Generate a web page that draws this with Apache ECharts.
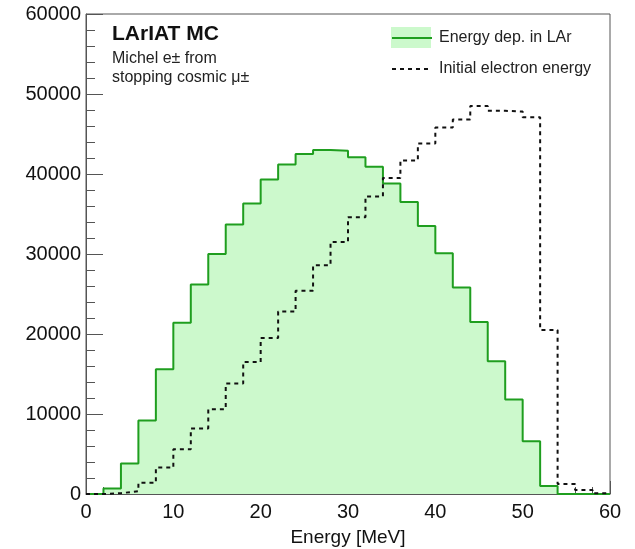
<!DOCTYPE html>
<html>
<head>
<meta charset="utf-8">
<script src="https://cdn.jsdelivr.net/npm/echarts@6/dist/echarts.min.js"></script>
<style>
  html, body { margin: 0; padding: 0; background: #fff; }
  #main { width: 635px; height: 549px; }
</style>
</head>
<body>
<div id="main"></div>
<script>
// bin low edges in MeV (2 MeV bins), last entry closes the histogram at 60
var binEdges = [0, 2, 4, 6, 8, 10, 12, 14, 16, 18, 20, 22, 24, 26, 28, 30,
                32, 34, 36, 38, 40, 42, 44, 46, 48, 50, 52, 54, 56, 58, 60];

// Energy deposited in LAr (entries per bin)
var depEnergy = [0, 700, 3800, 9200, 15600, 21400, 26200, 30000, 33700, 36300,
                 39300, 41200, 42500, 43000, 42900, 42100, 40900, 38800, 36500, 33500,
                 30100, 25800, 21500, 16600, 11800, 6600, 1000, 0, 0, 0];

// Initial electron energy (entries per bin)
var initEnergy = [0, 100, 350, 1400, 3300, 5600, 8200, 10600, 13800, 16500,
                  19500, 22800, 25400, 28600, 31500, 34600, 37200, 39500, 41700, 43800,
                  45800, 46800, 48500, 47900, 47800, 47100, 20500, 1250, 500, 100];

var xTicks = [0, 10, 20, 30, 40, 50, 60];
var yTicks = [0, 10000, 20000, 30000, 40000, 50000, 60000];

function histPoints(vals){
    var pts = [];
    for (var i = 0; i < vals.length; i++) pts.push([binEdges[i], vals[i]]);
    pts.push([binEdges[vals.length], vals[vals.length - 1]]);
    return pts;
}

var font = 'Liberation Sans, Arial, Helvetica, sans-serif';
var axisCol = '#555';

var myChart = echarts.init(document.getElementById('main'));
var option = {
    animation: false,
    backgroundColor: '#fff',
    grid: {
        left: 86, right: 25, top: 14, bottom: 55,
        outerBoundsMode: 'none',
        show: true, borderColor: axisCol, borderWidth: 1
    },
    legend: {
        orient: 'vertical',
        left: 391, top: 30, padding: 0,
        itemWidth: 40, itemHeight: 18, itemGap: 15,
        itemStyle: { opacity: 0 },
        textStyle: { fontFamily: font, fontSize: 16, color: '#222', padding: [0, 0, 0, 2] },
        data: ['Energy dep. in LAr', 'Initial electron energy']
    },
    graphic: [
        { type: 'rect', left: 391, top: 27, z: 0,
          shape: { width: 40, height: 21 }, style: { fill: '#ccf9cc' } },
        { type: 'text', left: 112, top: 24,
          style: { text: 'LArIAT MC', font: 'bold 21px ' + font, fill: '#111' } },
        { type: 'text', left: 112, top: 49,
          style: { text: 'Michel e\u00b1 from\nstopping cosmic \u03bc\u00b1', font: '16px ' + font,
                   lineHeight: 19, fill: '#222' } }
    ],
    xAxis: {
        type: 'value', min: xTicks[0], max: xTicks[xTicks.length - 1], interval: 10,
        name: 'Energy [MeV]', nameLocation: 'middle', nameGap: 34,
        nameTextStyle: { fontFamily: font, fontSize: 19, color: '#111' },
        axisLine: { lineStyle: { color: axisCol } },
        axisTick: { inside: true, length: 13, lineStyle: { color: axisCol } },
        minorTick: { show: true, splitNumber: 5, length: 7, lineStyle: { color: axisCol } },
        axisLabel: { fontFamily: font, fontSize: 20, color: '#111', margin: 8,
                     formatter: function(v){ return v; } },
        splitLine: { show: false }
    },
    yAxis: {
        type: 'value', min: yTicks[0], max: yTicks[yTicks.length - 1], interval: 10000,
        axisLine: { show: true, lineStyle: { color: axisCol } },
        axisTick: { show: true, inside: true, length: 17, lineStyle: { color: axisCol } },
        minorTick: { show: true, splitNumber: 5, length: 9, lineStyle: { color: axisCol } },
        axisLabel: { fontFamily: font, fontSize: 20, color: '#111', margin: 5,
                     formatter: function(v){ return v; } },
        splitLine: { show: false }
    },
    series: [
        {
            name: 'Energy dep. in LAr',
            type: 'line', step: 'end', symbol: 'none', z: 3,
            data: histPoints(depEnergy),
            lineStyle: { color: '#1f9e1f', width: 2 },
            itemStyle: { color: '#1f9e1f' },
            areaStyle: { color: '#ccf9cc', opacity: 1 }
        },
        {
            name: 'Initial electron energy',
            type: 'line', step: 'end', symbol: 'none', z: 4,
            data: histPoints(initEnergy),
            lineStyle: { color: '#111', width: 2, type: [4, 4] },
            itemStyle: { color: '#111' }
        }
    ]
};
myChart.setOption(option);
</script>
</body>
</html>
